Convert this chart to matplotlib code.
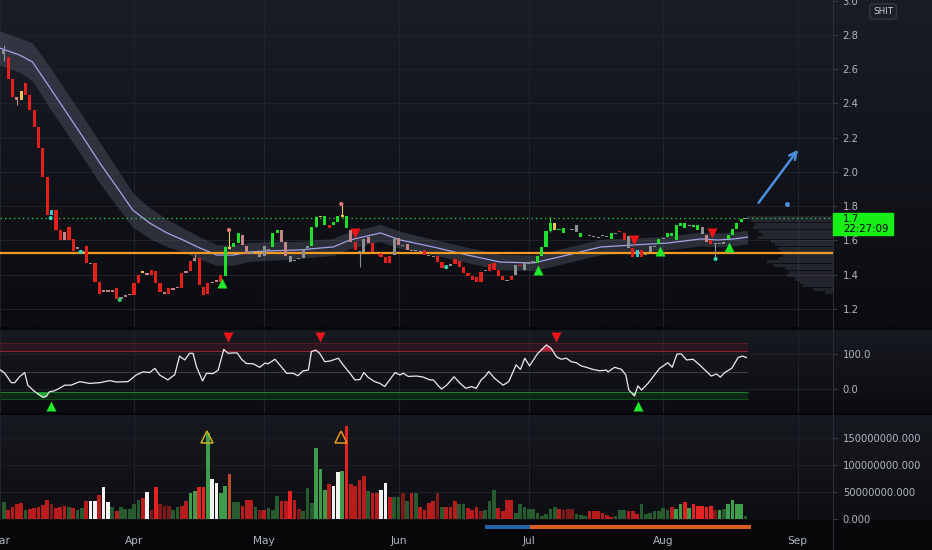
import numpy as np
import matplotlib
matplotlib.use("Agg")
import matplotlib.pyplot as plt
from matplotlib.colors import LinearSegmentedColormap
from matplotlib.patches import Rectangle
from matplotlib.lines import Line2D
import matplotlib.transforms as mtrans

# ---------------- data ----------------
months = ["Mar", "Apr", "May", "Jun", "Jul", "Aug", "Sep"]
month_days = [0, 31, 61, 92, 122, 153, 184]

opens = [
    2.69, 2.67, 2.54, 2.44, 2.42, 2.52, 2.45, 2.36, 2.26, 2.14,
    1.97, 1.75, 1.78, 1.66, 1.60, 1.68, 1.61, 1.56, 1.54, 1.57,
    1.47, 1.47, 1.36, 1.30, 1.31, 1.31, 1.32, 1.26, 1.27, 1.28,
    1.28, 1.35, 1.41, 1.41, 1.43, 1.42, 1.35, 1.30, 1.29, 1.31,
    1.32, 1.32, 1.41, 1.42, 1.48, 1.50, 1.33, 1.29, 1.35, 1.36,
    1.36, 1.39, 1.56, 1.56, 1.585, 1.635, 1.565, 1.53, 1.53, 1.52,
    1.51, 1.55, 1.56, 1.645, 1.66, 1.59, 1.51, 1.48, 1.49, 1.50,
    1.555, 1.565, 1.68, 1.74, 1.69, 1.69, 1.69, 1.71, 1.74, 1.745,
    1.66, 1.59, 1.54, 1.535, 1.62, 1.585, 1.535, 1.52, 1.505, 1.47,
    1.515, 1.615, 1.575, 1.58, 1.545, 1.54, 1.54, 1.545, 1.515, 1.51,
    1.51, 1.475, 1.445, 1.45, 1.49, 1.48, 1.445, 1.41, 1.39, 1.385,
    1.36, 1.42, 1.42, 1.47, 1.43, 1.39, 1.37, 1.37, 1.40, 1.455,
    1.43, 1.46, 1.475, 1.47, 1.51, 1.56, 1.655, 1.70, 1.66, 1.645,
    1.665, 1.665, 1.69, 1.62, 1.635, 1.63, 1.625, 1.615, 1.625, 1.62,
    1.61, 1.645, 1.655, 1.645, 1.625, 1.555, 1.505, 1.545, 1.515, 1.535,
    1.56, 1.58, 1.61, 1.62, 1.625, 1.605, 1.685, 1.675, 1.69, 1.68,
    1.66, 1.68, 1.63, 1.605, 1.58, 1.585, 1.58, 1.61, 1.63, 1.665,
    1.71, 1.725]
closes = [
    2.71, 2.54, 2.44, 2.42, 2.47, 2.45, 2.36, 2.26, 2.14, 1.97,
    1.75, 1.78, 1.66, 1.60, 1.65, 1.60, 1.54, 1.55, 1.535, 1.47,
    1.46, 1.36, 1.29, 1.31, 1.30, 1.30, 1.26, 1.27, 1.28, 1.29,
    1.35, 1.40, 1.42, 1.40, 1.40, 1.35, 1.30, 1.29, 1.32, 1.32,
    1.33, 1.41, 1.42, 1.48, 1.50, 1.34, 1.28, 1.35, 1.36, 1.37,
    1.40, 1.56, 1.55, 1.585, 1.645, 1.575, 1.52, 1.52, 1.535, 1.505,
    1.57, 1.545, 1.645, 1.66, 1.59, 1.51, 1.475, 1.485, 1.50, 1.55,
    1.565, 1.68, 1.735, 1.745, 1.745, 1.675, 1.71, 1.745, 1.75, 1.675,
    1.59, 1.545, 1.535, 1.61, 1.585, 1.535, 1.53, 1.505, 1.47, 1.51,
    1.61, 1.575, 1.57, 1.545, 1.54, 1.54, 1.535, 1.515, 1.51, 1.505,
    1.475, 1.44, 1.45, 1.46, 1.465, 1.445, 1.41, 1.39, 1.37, 1.36,
    1.415, 1.425, 1.465, 1.43, 1.395, 1.37, 1.365, 1.395, 1.455, 1.45,
    1.47, 1.475, 1.48, 1.51, 1.56, 1.655, 1.70, 1.66, 1.665, 1.675,
    1.67, 1.66, 1.65, 1.645, 1.63, 1.625, 1.62, 1.615, 1.625, 1.62,
    1.645, 1.64, 1.65, 1.60, 1.555, 1.505, 1.545, 1.505, 1.515, 1.565,
    1.565, 1.61, 1.615, 1.645, 1.645, 1.69, 1.705, 1.70, 1.685, 1.69,
    1.69, 1.64, 1.59, 1.58, 1.585, 1.58, 1.59, 1.63, 1.665, 1.705,
    1.725, 1.73]
tone = ("NRRPYRRRRR" "RCRRPRRNNR" "NRRPPPRNPP" "RRYPRRRPRP" "PRPRPRRRPP"
        "RGYGGPPNNN" "NNGGPPNNNN" "NGGYGRGGYG" "PRNNPRNRRR" "NPNPNNNRNN"
        "RRCNRRRRRR" "RNRRRRNRNR" "NNNGGGGYGG" "NNNGNNNNNN" "GNRRNRCRNN"
        "NGNGGGGGNG" "GNPRNNNGGG" "GN")

wick_days = [1, 4, 45, 53, 73, 79, 83, 127, 165]
wick_high = [2.74, 2.44, 1.52, 1.66, 1.745, 1.81, 1.54, 1.74, 1.585]
wick_low = [2.65, 2.39, 1.48, 1.55, 1.68, 1.74, 1.445, 1.65, 1.49]

ma_day = [0, 4.6, 7.6, 11.5, 15.5, 19.2, 23.1, 27, 30.7, 34.6,
          38.6, 42.3, 46.2, 50.1, 53.8, 57.7, 61.7, 69.3, 73.9, 76.9,
          80.8, 87.8, 92.4, 100, 107.9, 115.5, 123.1, 130.9, 138.6, 146.2,
          154, 161.7, 165.6, 169.3, 172.5]
ma_val = [2.724, 2.683, 2.642, 2.496, 2.345, 2.205, 2.053, 1.913, 1.778, 1.702,
          1.644, 1.603, 1.556, 1.515, 1.515, 1.533, 1.539, 1.545, 1.556, 1.562,
          1.603, 1.644, 1.603, 1.562, 1.515, 1.474, 1.469, 1.515, 1.562, 1.574,
          1.585, 1.609, 1.603, 1.609, 1.62]
band_hw = [0.10, 0.10, 0.11, 0.12, 0.12, 0.12, 0.12, 0.11, 0.10, 0.09,
           0.08, 0.07, 0.065, 0.06, 0.06, 0.055, 0.055, 0.05, 0.05, 0.05,
           0.05, 0.05, 0.05, 0.045, 0.045, 0.045, 0.045, 0.045, 0.045, 0.04,
           0.04, 0.04, 0.04, 0.04, 0.04]

support_level = 1.527
last_price = 1.731
buy_days = [51.3, 124.2, 152.2, 168.1]
buy_px = [1.352, 1.428, 1.539, 1.562]
sell_days = [82, 146.2, 164.2]
sell_px = [1.644, 1.603, 1.644]
dot_days = [11.8, 18.7, 27.7, 52.9, 78.8, 87.8, 103, 165.1]
dot_px = [1.731, 1.533, 1.253, 1.661, 1.813, 1.515, 1.445, 1.492]
dot_kind = "ccgppRcc"

prof_price = [1.735, 1.715, 1.695, 1.675, 1.655, 1.635, 1.615, 1.595, 1.575, 1.555,
              1.535, 1.515, 1.495, 1.475, 1.455, 1.435, 1.415, 1.395, 1.375, 1.355,
              1.335, 1.315, 1.295]
prof_vol = [86, 82, 78, 80, 74, 70, 76, 62, 58, 55, 52, 50, 54, 66, 60, 48, 44, 46,
            38, 33, 30, 20, 8]

arrow_from = (175.0, 1.82)
arrow_to = (184.1, 2.13)
note_dot = (181.5, 1.813)

rsi_day = [0, 1.2, 2.7, 3.5, 4.6, 5.8, 6.5, 7.7, 8.8, 10,
           10.8, 11.5, 12.7, 13.8, 15, 16.5, 18.5, 20.8, 23.1, 25.4,
           26.9, 29.6, 31.5, 33.1, 34.6, 35.8, 36.9, 38.8, 40.4, 41.5,
           42.7, 43.8, 44.6, 45.4, 46.8, 47.7, 49.2, 50.4, 51.7, 52.7,
           53.8, 54.8, 55.8, 56.9, 58.5, 60, 61.2, 61.9, 63.5, 64.6,
           66.2, 67.7, 68.8, 70, 71.2, 71.9, 72.9, 73.8, 75, 76.2,
           78.1, 79.2, 80.8, 81.9, 83.1, 84, 85, 86.5, 87.7, 88.8,
           90, 91.2, 92.3, 93.1, 94.2, 96.2, 97.7, 99.2, 100, 101.2,
           101.9, 103.1, 104.8, 106.2, 107.5, 108.8, 109.9, 111.1, 111.8, 112.8,
           114.1, 116.1, 117.4, 119.1, 120.1, 121.1, 122.2, 124.1, 126.1, 127.2,
           128.4, 129.5, 130.7, 131.8, 133, 134.1, 135.3, 136.8, 138.4, 139.9,
           140.3, 141.8, 143.4, 144.4, 145.1, 146.4, 147.2, 148, 149.5, 150.7,
           152.2, 154.1, 155.1, 156.2, 157.2, 158.4, 159.9, 161.4, 163, 164.1,
           165.3, 166.2, 167.2, 168.8, 170.3, 171.3, 172.2]
rsi_val = [56, 45, 18, 18, 35, 47, 11, -3, -14, -24,
           -21, -8, -5, 2, 11, 11, 21, 16, 18, 24,
           20, 21, 40, 49, 47, 59, 40, 26, 41, 94,
           83, 102, 102, 64, 23, 45, 44, 54, 113, 102,
           103, 103, 85, 73, 72, 62, 74, 72, 85, 69,
           45, 45, 38, 52, 54, 107, 111, 102, 78, 80,
           88, 69, 45, 26, 27, 47, 33, 21, 16, 7,
           27, 47, 40, 45, 36, 37, 34, 26, 26, 9,
           0, 11, 35, 16, 2, 7, 2, 27, 34, 50,
           31, 11, 21, 69, 56, 88, 66, 102, 126, 116,
           92, 85, 88, 78, 75, 66, 62, 56, 52, 54,
           49, 62, 56, 40, -3, -20, 9, -3, 16, 35,
           59, 75, 62, 100, 100, 83, 85, 69, 50, 37,
           43, 34, 47, 59, 90, 94, 90]
rsi_upper = (109, 132)
rsi_lower = (-29, -9.5)
rsi_sell_days = [52.7, 73.9, 128.2]
rsi_buy_days = [11.8, 147.1]

vol_m = [31, 17, 23, 27, 30, 16, 18.5, 20, 23, 26,
         36, 28, 20, 23, 25, 23, 20, 16, 20, 33,
         33, 33, 45, 59, 31, 23, 14, 22, 18.5, 18.5,
         27, 36, 39, 50, 17, 59, 27, 25, 25, 17,
         23, 25, 33, 48, 52, 59, 59, 159, 74, 67,
         48, 62, 84, 31, 31, 25, 36, 36, 23, 17,
         16, 20, 16, 42, 33, 33, 51, 35, 18.5, 14,
         57, 30, 131, 93, 53, 64, 62, 87, 88, 172,
         64, 62, 73, 79, 51, 48, 48, 54, 67, 41,
         40, 40, 49, 33, 48, 49, 23, 17, 30, 33,
         48, 23, 23, 23, 33, 27, 28, 20,
         17, 22, 14, 17, 33, 54, 20, 14, 36, 35,
         12, 28, 22, 19, 19, 11, 6, 9, 19, 22,
         19, 17, 19, 19, 10, 7, 5, 15, 15, 14,
         12, 8, 4, 6, 17, 17, 14, 14, 9, 28,
         9, 12, 14, 15, 20, 17, 23, 19, 27, 31,
         20, 27, 25, 25, 23, 25, 17, 17, 19, 28,
         36, 28, 27, 6]
vol_kind = ("drrrrdrrrr" "rkrrrdrddr" "WWrWWdrddd" "ddrWkRkkkd" "drrGGRRGWW"
            "GGOddrrrdk" "rdddrrRrkd" "ddGGGrWWGR" "rrrrdrrWWr" "ddkdrdrrrr"
            "kdrrrddr"
            "rrkdddrrrr" "dddddddddd" "rkkkdddrrr" "rrrdddrrrd" "ddddddrGGR"
            "GRRRRRkGdG" "GGGd")
vol_alert_days = [47.8, 78.8]
vol_alert_level = 152

session_spans = [(112.0, 122.2), (122.2, 173.2)]

# ---------------- layout ----------------
W, H = 932, 550
PX = 833
XMIN, XMAX = 0.1, 0.1 + PX / 4.337
fig = plt.figure(figsize=(W / 100, H / 100), dpi=100, facecolor="#060709")


def fr(x0, y0, x1, y1):
    return [x0 / W, 1 - y1 / H, (x1 - x0) / W, (y1 - y0) / H]


def bg(box, top, bot):
    a = fig.add_axes(box, zorder=0)
    a.imshow(np.linspace(0, 1, 256).reshape(-1, 1), aspect="auto",
             cmap=LinearSegmentedColormap.from_list("g", [top, bot]),
             extent=[0, 1, 0, 1], origin="upper")
    a.set_axis_off()


bg(fr(0, 0, W, 327), "#1a1d27", "#0b0c10")
bg(fr(0, 330, W, 413), "#181a22", "#0b0c0f")
bg(fr(0, 415, W, 520), "#171920", "#0d0e12")

ax = fig.add_axes(fr(0, 0, PX, 327), zorder=2)
ax_r = fig.add_axes(fr(0, 330, PX, 413), zorder=2)
ax_v = fig.add_axes(fr(0, 415, PX, 520), zorder=2)
ax_s = fig.add_axes(fr(0, 525, PX, 529), zorder=2)

LBL = "#b2b5be"
GRID = "#20232c"
for a in (ax, ax_r, ax_v, ax_s):
    a.patch.set_alpha(0)
    for s in a.spines.values():
        s.set_visible(False)
    a.set_xticks([])
    a.yaxis.tick_right()
    a.tick_params(axis="y", length=3, pad=4, color="#3a3d46",
                  labelcolor=LBL, labelsize=7.2)
    if a is not ax_s:
        for d in month_days:
            a.axvline(d, color=GRID, lw=0.8, zorder=0.5)

# ---------------- main pane ----------------
n = min(len(opens), len(closes), len(tone))
days = np.arange(1, n + 1)
o = np.array(opens[:n])
c = np.array(closes[:n])
tone_col = {"R": "#e3201c", "G": "#1fe02a", "P": "#c48585", "N": "#8c9292",
            "Y": "#ecc45a", "C": "#3cc4d4"}
cols = [tone_col[t] for t in tone[:n]]

for p in np.arange(1.2, 2.81, 0.2):
    ax.axhline(p, color=GRID, lw=0.7, zorder=0.5)

# volume profile
pv = np.array(prof_vol, dtype=float)
pw = pv / pv.max() * 19.8
ax.barh(prof_price, pw, left=XMAX - pw, height=0.018, color="#5d606c",
        alpha=0.28, lw=0, zorder=1)

mv = np.array(ma_val)
hw = np.array(band_hw)
ax.fill_between(ma_day, mv - hw, mv + hw, color="#6b6e82", alpha=0.32, lw=0, zorder=1.5)
ax.plot(ma_day, mv, color="#a2a4e8", lw=0.9, zorder=2)

ax.axhline(support_level, color="#f29a22", lw=1.6, zorder=2.5)
ax.axhline(last_price, color="#2fd93a", lw=0.9, ls=(0, (1, 2.6)), zorder=2.5)

wcol = [cols[d - 1] for d in wick_days]
ax.vlines(wick_days, wick_low, wick_high, colors=wcol, lw=0.8, zorder=3)
body_lo = np.minimum(o, c)
body_h = np.maximum(np.abs(c - o), 0.005)
ax.bar(days, body_h, bottom=body_lo, width=0.72, color=cols, lw=0, zorder=4)

ax.plot(buy_days, buy_px, "^", color="#1fe82a", ms=7.5, mec="none", zorder=6)
ax.plot(sell_days, sell_px, "v", color="#ee1418", ms=7.5, mec="none", zorder=6)
dot_col = {"c": "#35d6b0", "g": "#2fd070", "p": "#e87a7a", "R": "#e3201c"}
ax.scatter(dot_days, dot_px, s=9, c=[dot_col[k] for k in dot_kind], zorder=6, lw=0)

ax.annotate("", xy=arrow_to, xytext=arrow_from,
            arrowprops=dict(arrowstyle="->", color="#4a8fdc", lw=1.8,
                            mutation_scale=13, shrinkA=0, shrinkB=0), zorder=7)
ax.plot([note_dot[0]], [note_dot[1]], "o", color="#4a8fdc", ms=2.5, zorder=7)

ax.set_xlim(XMIN, XMAX)
ax.set_ylim(1.095, 3.004)
ax.set_yticks([1.2, 1.4, 1.6, 1.8, 2.0, 2.2, 2.4, 2.6, 2.8, 3.0])
ax.set_yticklabels(["1.2", "1.4", "1.6", "1.8", "2.0", "2.2", "2.4", "2.6", "2.8", "3.0"])

# ---------------- oscillator pane ----------------
rd = np.array(rsi_day, dtype=float)
rv = np.array(rsi_val, dtype=float)
span = [0, 172.6]
ax_r.fill_between(span, rsi_upper[0], rsi_upper[1], color="#5c1424", alpha=0.35, lw=0)
ax_r.hlines(rsi_upper[0], *span, color="#a02838", lw=0.8, alpha=0.85)
ax_r.hlines(rsi_upper[1], *span, color="#6e1c2a", lw=0.6, alpha=0.7)
ax_r.fill_between(span, rsi_lower[0], rsi_lower[1], color="#0f3a17", alpha=0.55, lw=0)
ax_r.hlines(rsi_lower[1], *span, color="#1f8a2e", lw=0.8, alpha=0.9)
ax_r.hlines(rsi_lower[0], *span, color="#1b6a28", lw=0.6, alpha=0.8)
ax_r.hlines(50, *span, color="#3a3d46", lw=0.8)
for lv in (0, 100):
    ax_r.axhline(lv, color="#22252e", lw=0.6, zorder=0.5)
ax_r.fill_between(rd, rv, rsi_upper[0], where=rv > rsi_upper[0], interpolate=True,
                  color="#b0243a", lw=0, zorder=2)
ax_r.fill_between(rd, rv, rsi_lower[1], where=rv < rsi_lower[1], interpolate=True,
                  color="#22a832", lw=0, zorder=2)
ax_r.plot(rd, rv, color="#ececec", lw=0.9, zorder=3)
ax_r.plot(rsi_sell_days, [149] * len(rsi_sell_days), "v", color="#ee1418", ms=7, mec="none", zorder=4)
ax_r.plot(rsi_buy_days, [-49] * len(rsi_buy_days), "^", color="#1fe82a", ms=7, mec="none", zorder=4)
ax_r.set_xlim(XMIN, XMAX)
ax_r.set_ylim(-68.6, 168.6)
ax_r.set_yticks([0, 100])
ax_r.set_yticklabels(["0.0", "100.0"])

# ---------------- volume pane ----------------
vcol = {"d": "#275a2f", "r": "#b81c1c", "k": "#7e1a1a", "R": "#e52222",
        "G": "#3f9c4a", "W": "#f2f2f2", "O": "#bf4a2a"}
nv = min(len(vol_m), len(vol_kind))
vdays = np.arange(1, nv + 1)
ax_v.bar(vdays, np.array(vol_m[:nv]) * 1e6, width=0.85,
         color=[vcol[k] for k in vol_kind[:nv]], lw=0, zorder=2)
for yv in (50e6, 100e6, 150e6):
    ax_v.axhline(yv, color="#1e2129", lw=0.6, zorder=0.5)
ax_v.plot(vol_alert_days[0], vol_alert_level * 1e6, "^", ms=9, mfc="none",
          mec="#c9b21e", mew=1.1, zorder=3)
ax_v.plot(vol_alert_days[1], vol_alert_level * 1e6, "^", ms=9, mfc="none",
          mec="#e8941e", mew=1.1, zorder=3)
ax_v.set_xlim(XMIN, XMAX)
ax_v.set_ylim(-1.85e6, 192.6e6)
vt = [0, 50e6, 100e6, 150e6]
ax_v.set_yticks(vt)
ax_v.set_yticklabels([f"{v:.3f}" for v in vt])

# ---------------- session strip ----------------
ax_s.set_xlim(XMIN, XMAX)
ax_s.set_ylim(0, 1)
ax_s.axvspan(*session_spans[0], color="#2462a6", lw=0)
ax_s.axvspan(*session_spans[1], color="#d95e1e", lw=0)
ax_s.set_yticks([])

# month labels
tr = mtrans.blended_transform_factory(ax_v.transData, fig.transFigure)
for m, d in zip(months, month_days):
    fig.text(d, 1 - 541 / H, m, transform=tr, ha="center", va="center",
             color=LBL, fontsize=7.6)

# separators, price tag and symbol badge
fig.add_artist(Line2D([PX / W, PX / W], [0, 1], color="#2a2d36", lw=0.8))
fig.add_artist(Rectangle((PX / W, 1 - 235 / H), 60 / W, 22 / H,
                         transform=fig.transFigure, color="#16f016", zorder=10))
fig.text(843 / W, 1 - 219 / H, "1.7", color="black", fontsize=7.4, va="center",
         ha="left", zorder=11)
fig.text(843 / W, 1 - 229.5 / H, "22:27:09", color="black", fontsize=7.4,
         va="center", ha="left", zorder=11)
fig.text(883 / W, 1 - 11.5 / H, "SHIT", color="#c8cad0", fontsize=6.4,
         ha="center", va="center",
         bbox=dict(boxstyle="round,pad=0.35", fc="#1c1f27", ec="#3a3e48", lw=0.8))

fig.savefig("out.png", dpi=100, facecolor=fig.get_facecolor())
